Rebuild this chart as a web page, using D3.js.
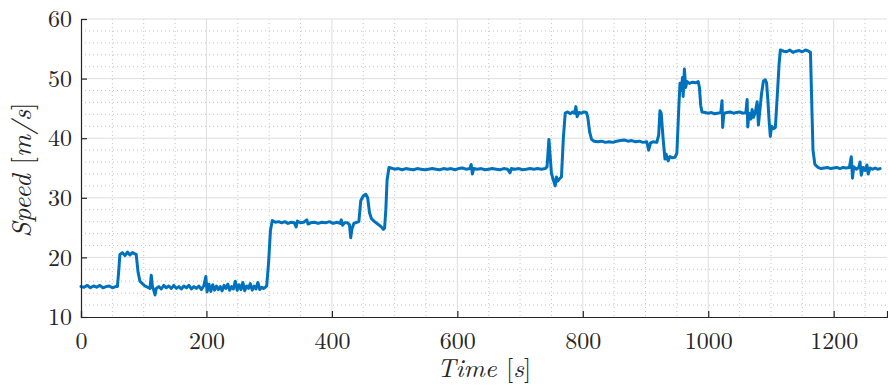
<!DOCTYPE html>
<html>
<head>
<meta charset="utf-8">
<script src="https://cdn.jsdelivr.net/npm/d3@7"></script>
<style>
html,body{margin:0;padding:0;background:#fff;}
svg{display:block;}
</style>
</head>
<body>
<svg id="chart" width="888" height="385"></svg>
<script>
const time = [0,5,10,15,20,25,30,35,40,45,50,55,58,
60,62,66,70,74,78,82,86,88,91,94,98,102,106,110,112,114,116,118,120,124,128,132,136,140,144,148,152,156,160,164,168,172,176,180,184,188,192,196,199,201,204,207,210,213,216,219,222,225,228,231,234,237,240,243,246,249,252,255,258,261,264,267,270,273,276,279,282,285,288,291,294,296,
299,302,305,310,315,320,325,330,335,340,343,345,350,355,360,362,366,372,378,384,390,396,402,408,413,415,417,420,425,428,430,432,435,440,443,446,450,454,457,460,463,468,473,478,482,484,486,488,491,494,
500,506,512,518,524,530,536,542,548,554,560,566,572,578,584,590,596,602,608,614,620,622,624,626,632,638,644,650,656,662,668,674,680,684,686,692,698,704,710,716,722,728,734,740,743,746,748,750,753,756,758,760,763,766,769,772,776,780,784,787,789,791,794,798,802,806,808,811,814,818,824,830,836,842,848,854,860,866,872,878,884,890,896,902,905,908,912,918,921,923,925,928,931,933,936,939,943,947,950,953,955,957,959,960,962,964,966,970,975,980,984,986,988,990,995,
1000,1005,1010,1015,1020,1022,1023,1025,1030,1035,1040,1045,1050,1055,1060,1062,1063,1065,1068,1070,1072,1075,1078,1080,1082,1085,1088,1091,1093,1095,1097,1099,1101,1104,1107,1110,1113,1115,1120,1125,1130,1135,1140,1145,1150,1155,1160,1163,1165,1167,1170,1175,1180,1185,1190,1195,1200,1205,1210,1215,1220,1225,1228,1230,1232,1236,1240,1242,1244,1247,1250,1253,1255,1258,1262,1266,1270,1274];

const speed = [15.1,15.0,15.3,14.9,15.2,15.0,15.3,14.9,15.1,15.2,14.9,15.1,15.1,
17.5,20.5,20.8,20.3,20.9,20.4,20.8,20.6,20.5,17.5,16.0,15.6,15.2,15.0,14.8,17.0,15.0,14.5,13.7,14.8,15.1,14.7,15.3,14.9,15.2,14.8,15.3,14.8,15.1,14.7,15.2,14.9,15.3,14.7,15.1,14.8,15.2,14.6,15.3,16.8,14.2,15.5,14.3,15.4,14.5,15.2,14.6,15.1,14.4,15.3,14.8,15.5,14.5,15.1,14.7,16.0,14.5,15.4,14.6,15.8,14.4,15.2,14.8,15.6,14.5,15.2,14.7,15.8,14.6,15.0,14.8,15.0,15.2,
19.0,24.5,26.2,25.9,26.0,25.8,26.0,25.7,25.9,25.8,25.1,26.1,25.8,25.9,26.3,25.6,25.8,25.9,25.7,25.9,25.8,26.0,25.7,25.9,25.7,26.3,25.4,25.8,25.8,25.5,23.3,24.8,25.7,25.9,26.0,29.5,30.3,30.6,30.0,27.5,26.5,26.0,25.6,25.2,24.7,24.9,28.0,33.0,35.1,35.0,
34.8,34.9,34.7,34.9,34.8,34.7,34.9,34.8,34.7,34.8,34.9,34.8,34.7,34.9,34.8,34.9,34.7,34.9,35.0,34.8,34.9,35.6,34.0,34.9,34.8,34.9,34.7,34.8,34.9,34.8,34.7,34.9,34.8,34.2,34.9,34.8,34.9,34.7,34.8,34.9,34.8,34.9,34.8,34.9,35.2,39.8,37.0,34.1,33.0,32.0,33.5,32.8,33.2,33.5,40.0,44.2,44.4,44.1,44.4,44.2,45.3,43.6,44.3,44.2,44.4,44.3,43.5,41.0,39.8,39.5,39.4,39.5,39.3,39.4,39.3,39.5,39.6,39.7,39.5,39.6,39.4,39.5,39.3,39.4,38.0,39.2,39.4,39.3,40.5,44.6,44.2,40.0,36.5,37.3,36.2,36.9,36.7,36.8,37.5,45.0,49.2,48.0,50.2,47.0,51.6,48.5,49.5,49.2,49.4,49.3,49.5,48.5,45.5,44.4,44.3,
44.2,44.3,44.1,44.2,44.3,46.3,41.8,44.2,44.3,44.4,44.2,44.3,44.4,44.2,44.3,46.5,41.9,44.2,43.2,44.8,43.5,44.3,46.1,42.2,44.3,47.5,49.6,49.8,49.3,46.5,43.0,40.3,42.0,41.6,41.8,47.0,52.5,54.8,54.6,54.5,54.8,54.4,54.6,54.7,54.5,54.8,54.6,54.4,46.0,38.0,35.6,35.1,34.9,35.0,35.1,34.9,35.0,35.1,34.9,35.1,35.0,35.1,36.9,33.3,35.2,34.8,35.1,36.0,33.8,35.1,34.6,35.5,34.0,35.0,34.8,35.0,34.8,34.9];

const xTicks = [0,200,400,600,800,1000,1200];
const yTicks = [10,20,30,40,50,60];
const xDomain = [0,1285];
const yDomain = [10,60];

const FONT = '"Latin Modern Roman", "Liberation Serif", serif';
const INK = "#262626";

const svg = d3.select("#chart");
const m = {l:81, t:19, r:887, b:317};
const x = d3.scaleLinear().domain(xDomain).range([m.l, m.r]);
const y = d3.scaleLinear().domain(yDomain).range([m.b, m.t]);

// minor grid
const xMinor = d3.range(0, 1285, 50).filter(v => v % 200 !== 0);
const yMinor = d3.range(10, 60, 2).filter(v => v % 10 !== 0);
const g = svg.append("g");
g.selectAll(".xm").data(xMinor).join("line")
  .attr("x1", d => x(d)).attr("x2", d => x(d)).attr("y1", m.t).attr("y2", m.b)
  .attr("stroke", "#c4c4c4").attr("stroke-width", 1).attr("stroke-dasharray", "1,3");
g.selectAll(".ym").data(yMinor).join("line")
  .attr("y1", d => y(d)).attr("y2", d => y(d)).attr("x1", m.l).attr("x2", m.r)
  .attr("stroke", "#c4c4c4").attr("stroke-width", 1).attr("stroke-dasharray", "1,3");
// major grid
g.selectAll(".xg").data(xTicks.filter(d => d > 0)).join("line")
  .attr("x1", d => x(d)).attr("x2", d => x(d)).attr("y1", m.t).attr("y2", m.b)
  .attr("stroke", "#dedede").attr("stroke-width", 1);
g.selectAll(".yg").data(yTicks.filter(d => d > 10)).join("line")
  .attr("y1", d => y(d)).attr("y2", d => y(d)).attr("x1", m.l).attr("x2", m.r)
  .attr("stroke", "#dedede").attr("stroke-width", 1);

// line
const line = d3.line().x((d, i) => x(time[i])).y((d, i) => y(speed[i]));
svg.append("path").datum(speed).attr("d", line)
  .attr("fill", "none").attr("stroke", "#0072BD").attr("stroke-width", 3)
  .attr("stroke-linejoin", "round").attr("stroke-linecap", "round");

// axes
const xAxis = d3.axisBottom(x).tickValues(xTicks).tickSize(-6).tickFormat(d3.format("d"));
const yAxis = d3.axisLeft(y).tickValues(yTicks).tickSize(-6).tickPadding(9).tickFormat(d3.format("d"));
const gx = svg.append("g").attr("transform", `translate(0,${m.b})`).call(xAxis);
const gy = svg.append("g").attr("transform", `translate(${m.l},0)`).call(yAxis);
[gx, gy].forEach(a => {
  a.attr("font-family", null).attr("font-size", null);
  a.select(".domain").attr("stroke", INK).attr("stroke-width", 1.2);
  a.selectAll(".tick line").attr("stroke", INK).attr("stroke-width", 1.2);
  a.selectAll(".tick text").style("font-family", FONT).style("font-size", "24px").attr("fill", INK);
});
gx.selectAll(".tick text").attr("y", 32).attr("dy", 0);
gy.selectAll(".tick text").attr("dy", "0.32em");

// axis labels
const xl = svg.append("text").attr("x", (m.l + m.r) / 2).attr("y", 377)
  .attr("text-anchor", "middle").style("font-family", FONT).style("font-size", "26px").attr("fill", INK);
xl.append("tspan").attr("font-style", "italic").text("Time ");
xl.append("tspan").text("[");
xl.append("tspan").attr("font-style", "italic").text("s");
xl.append("tspan").text("]");

const yl = svg.append("text").attr("transform", `translate(31,${(m.t + m.b) / 2 + 2}) rotate(-90)`)
  .attr("text-anchor", "middle").style("font-family", FONT).style("font-size", "27px").attr("fill", INK);
yl.append("tspan").attr("font-style", "italic").text("Speed ");
yl.append("tspan").text("[");
yl.append("tspan").attr("font-style", "italic").text("m/s");
yl.append("tspan").text("]");
</script>
</body>
</html>
